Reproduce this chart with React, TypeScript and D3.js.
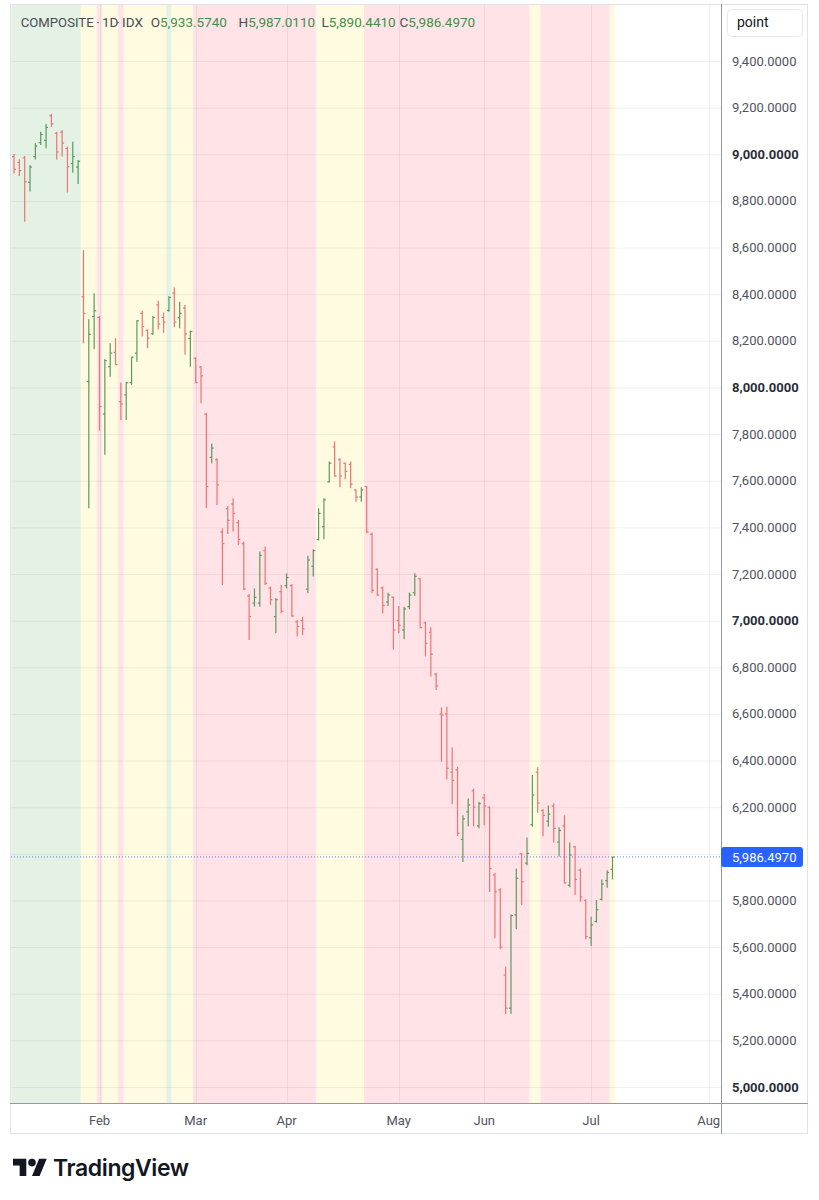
import React from "react";
import * as d3 from "d3";

// ---- DATA ----
const opens = [
  8990, 8965, 8985, 8880, 8990, 9050, 9060, 9165, 9090, 9095, 9025, 8960, 8945,
  8389, 8025, 8304, 8300, 7886, 8089, 8150, 7939, 7968, 8021, 8147, 8318, 8245,
  8230, 8354, 8300, 8330, 8405, 8300, 8340, 8210, 8125, 8088, 7885, 7700, 7690,
  7380, 7480, 7500, 7420, 7330, 7105, 7075, 7075, 7300, 7140, 7017, 7124, 7150,
  7150, 6995, 7000, 7135, 7233, 7348, 7403, 7595, 7745, 7690, 7675, 7670, 7560,
  7530, 7575, 7370, 7220, 7140, 7080, 7100, 7000, 6960, 7060, 7120, 7180, 6990,
  6950, 6770, 6600, 6600, 6350, 6360, 6062, 6180, 6270, 6120, 6240, 6200, 5910,
  5845, 5480, 5338, 5738, 6000, 5960, 6125, 6350, 6185, 6140, 6205, 6050, 6120,
  5865, 6030, 5930, 5800, 5640, 5710, 5805, 5885, 5933.574,
];
const highs = [
  9001, 8979, 8993, 8954, 9047, 9097, 9130, 9173, 9097, 9104, 9033, 9054, 8975,
  8589, 8292, 8404, 8306, 8121, 8190, 8211, 8021, 8025, 8132, 8288, 8329, 8249,
  8306, 8372, 8321, 8392, 8429, 8368, 8354, 8243, 8130, 8092, 7892, 7760, 7696,
  7396, 7492, 7525, 7432, 7339, 7114, 7138, 7296, 7318, 7146, 7097, 7153, 7203,
  7157, 7003, 7017, 7278, 7306, 7482, 7525, 7682, 7768, 7696, 7678, 7682, 7563,
  7572, 7577, 7378, 7225, 7146, 7120, 7103, 7063, 7060, 7120, 7203, 7182, 6996,
  6972, 6777, 6628, 6631, 6456, 6373, 6165, 6237, 6280, 6223, 6258, 6203, 5919,
  5852, 5517, 5741, 5937, 6005, 6070, 6338, 6371, 6192, 6207, 6216, 6114, 6165,
  6049, 6035, 5937, 5805, 5730, 5802, 5890, 5929, 5987.011,
];
const lows = [
  8918, 8907, 8711, 8840, 8978, 9040, 9026, 9118, 8978, 8990, 8836, 8921, 8873,
  8189, 7482, 8164, 7815, 7711, 8046, 8096, 7860, 7860, 8011, 8110, 8218, 8168,
  8225, 8249, 8235, 8325, 8258, 8254, 8140, 8089, 8018, 7932, 7482, 7675, 7496,
  7153, 7372, 7382, 7325, 7131, 6917, 7060, 7060, 7153, 7067, 6946, 7032, 7138,
  7017, 6932, 6938, 7117, 7189, 7344, 7349, 7592, 7618, 7572, 7606, 7568, 7510,
  7510, 7375, 7117, 7106, 7032, 7063, 6875, 6946, 6920, 7049, 7106, 6967, 6846,
  6760, 6702, 6395, 6319, 6213, 6076, 5965, 6118, 6118, 6109, 6122, 5836, 5638,
  5591, 5313, 5313, 5676, 5780, 5951, 6116, 6176, 6075, 6116, 6049, 5988, 5872,
  5857, 5825, 5794, 5634, 5605, 5705, 5800, 5855, 5890.441,
];
const closes = [
  8935, 8930, 8882, 8945, 9035, 9085, 9115, 9130, 9010, 9048, 8947, 8990, 8970,
  8318, 8228, 8329, 7918, 8115, 8147, 8098, 7929, 8020, 8130, 8286, 8261, 8211,
  8300, 8272, 8280, 8386, 8280, 8318, 8230, 8240, 8021, 8050, 7575, 7740, 7582,
  7330, 7430, 7460, 7348, 7135, 7017, 7100, 7280, 7160, 7090, 7090, 7040, 7185,
  7020, 6975, 6965, 7260, 7300, 7460, 7518, 7675, 7620, 7620, 7640, 7585, 7530,
  7560, 7380, 7130, 7110, 7065, 7110, 6960, 6980, 7050, 7110, 7190, 6970, 6903,
  6856, 6720, 6595, 6367, 6315, 6088, 6150, 6210, 6200, 6215, 6205, 5937, 5837,
  5600, 5338, 5735, 5895, 5880, 6002, 6252, 6218, 6165, 6170, 6109, 6100, 5875,
  5995, 5890, 5815, 5645, 5695, 5760, 5870, 5920, 5986.497,
];

// background regime runs (start bar index, state)
const regimeStart = [0, 13, 16, 17, 20, 21, 29, 30, 34, 57, 66, 97, 99, 112];
const regimeState = ["G", "Y", "P", "Y", "P", "Y", "G", "Y", "P", "Y", "P", "Y", "P", "Y"];

const yTicks = [9400, 9200, 9000, 8800, 8600, 8400, 8200, 8000, 7800, 7600, 7400, 7200, 7000, 6800, 6600, 6400, 6200, 5800, 5600, 5400, 5200, 5000];
const gridTicks = [9400, 9200, 9000, 8800, 8600, 8400, 8200, 8000, 7800, 7600, 7400, 7200, 7000, 6800, 6600, 6400, 6200, 6000, 5800, 5600, 5400, 5200, 5000];

const monthLabels = ["Feb", "Mar", "Apr", "May", "Jun", "Jul", "Aug"];
const monthIndex = [16, 34, 51, 72, 88, 108, 130];

const lastPrice = closes[closes.length - 1];

// ---- LAYOUT ----
const W = 819;
const H = 1200;
const plotL = 11;
const plotR = 721;
const plotT = 5;
const plotB = 1103;

const bandColor: Record<string, string> = {
  G: "#e3f2e4",
  Y: "#fffbe0",
  P: "#ffe3e6",
};
const upColor = "#5a9a5e";
const downColor = "#ee7373";

const fmt = (v: number) => d3.format(",.4f")(v);

export default function App() {
  const xScale = d3.scaleLinear().domain([0, 112]).range([14, 612.5]);
  const yScale = d3.scaleLinear().domain([5000, 9400]).range([1087, 61]);
  const step = xScale(1) - xScale(0);
  const n = closes.length;
  const font = "Roboto, 'Noto Sans', sans-serif";

  const bands = regimeStart.map((s, k) => {
    const e = k < regimeStart.length - 1 ? regimeStart[k + 1] - 1 : n - 1;
    const x0 = Math.max(plotL, xScale(s) - step / 2);
    const x1 = xScale(e) + step / 2;
    return { x0, x1, c: bandColor[regimeState[k]] };
  });

  const hdrDark = "#4a4d55";
  const hdrGreen = "#43904a";
  const ohlc = [
    { k: "O", v: opens[n - 1], x: 150.7 },
    { k: "H", v: highs[n - 1], x: 238.5 },
    { k: "L", v: lows[n - 1], x: 321.5 },
    { k: "C", v: lastPrice, x: 399.5 },
  ];

  return (
    <svg
      width={W}
      height={H}
      style={{ position: "absolute", left: 0, top: 0, background: "#fff" }}
      fontFamily={font}
    >
      <defs>
        <clipPath id="plotClip">
          <rect x={plotL} y={plotT} width={plotR - plotL} height={plotB - plotT} />
        </clipPath>
        <clipPath id="timeClip">
          <rect x={plotL} y={plotB} width={plotR - plotL} height={32} />
        </clipPath>
      </defs>

      {/* background regimes */}
      <g clipPath="url(#plotClip)">
        {bands.map((b, i) => (
          <rect key={i} x={b.x0} y={plotT} width={b.x1 - b.x0} height={plotB - plotT} fill={b.c} />
        ))}
        {/* grid */}
        {gridTicks.map((t) => (
          <line key={t} x1={plotL} x2={plotR} y1={yScale(t) + 0.5} y2={yScale(t) + 0.5} stroke="rgba(42,46,57,0.07)" strokeWidth={1} />
        ))}
        {monthIndex.map((m) => (
          <line key={m} x1={Math.round(xScale(m)) + 0.5} x2={Math.round(xScale(m)) + 0.5} y1={plotT} y2={plotB} stroke="rgba(42,46,57,0.07)" strokeWidth={1} />
        ))}
        {/* last price dotted line */}
        <line x1={plotL} x2={plotR} y1={yScale(lastPrice)} y2={yScale(lastPrice)} stroke="#2962ff" strokeWidth={1} strokeDasharray="1 2" opacity={0.8} />
        {/* OHLC bars */}
        {closes.map((c, i) => {
          const o = opens[i];
          const x = xScale(i);
          const col = c >= o ? upColor : downColor;
          return (
            <g key={i} stroke={col} strokeWidth={1.2}>
              <line x1={x} x2={x} y1={yScale(highs[i])} y2={yScale(lows[i])} />
              <line x1={x - 2} x2={x} y1={yScale(o)} y2={yScale(o)} />
              <line x1={x} x2={x + 2} y1={yScale(c)} y2={yScale(c)} />
            </g>
          );
        })}
      </g>

      {/* header legend */}
      <g fontSize={13.5} fill={hdrDark}>
        <text x={20.7} y={27} textLength={73} lengthAdjust="spacingAndGlyphs">COMPOSITE</text>
        <text x={98} y={27} textAnchor="middle">·</text>
        <text x={102} y={27}>1D</text>
        <text x={118} y={27} textAnchor="middle">·</text>
        <text x={122} y={27}>IDX</text>
        {ohlc.map((d) => (
          <text key={d.k} x={d.x} y={27}>
            <tspan fill={hdrDark}>{d.k}</tspan>
            <tspan fill={hdrGreen}>{fmt(d.v)}</tspan>
          </text>
        ))}
      </g>

      {/* outer frame */}
      <rect x={10.5} y={4.5} width={797} height={1129} fill="none" stroke="#e0e3eb" strokeWidth={1} />
      {/* axis lines */}
      <line x1={10} x2={808} y1={plotB + 0.5} y2={plotB + 0.5} stroke="#9598a1" strokeWidth={1} />
      <line x1={plotR + 0.5} x2={plotR + 0.5} y1={4} y2={1134} stroke="#9598a1" strokeWidth={1} />

      {/* unit box */}
      <rect x={727.5} y={9.5} width={75} height={27} rx={4} fill="#fff" stroke="#e6e8ee" />
      <text x={737} y={27} fontSize={14} fill="#131722">point</text>

      {/* y labels */}
      {yTicks.map((t) => (
        <text
          key={t}
          x={732}
          y={yScale(t)}
          dy="0.35em"
          fontSize={13}
          fontWeight={t % 1000 === 0 ? 700 : 400}
          fill={t % 1000 === 0 ? "#2a2e39" : "#50535e"}
        >
          {fmt(t)}
        </text>
      ))}

      {/* last price label */}
      <rect x={721} y={yScale(lastPrice) - 10} width={82} height={20} rx={3} fill="#2962ff" />
      <text x={732} y={yScale(lastPrice)} dy="0.35em" fontSize={13} fill="#fff">
        {fmt(lastPrice)}
      </text>

      {/* time labels */}
      <g clipPath="url(#timeClip)">
        {monthLabels.map((m, k) => (
          <text key={m} x={xScale(monthIndex[k])} y={1120} dy="0.35em" textAnchor="middle" fontSize={13} fill="#50535e">
            {m}
          </text>
        ))}
      </g>

      {/* TradingView logo */}
      <g transform="translate(13,1155) scale(0.95)" fill="#131722">
        <path d="M14 22H7V11H0V4h14v18zM28 22h-8l7.5-18h8L28 22z" />
        <circle cx={20} cy={8} r={4} />
      </g>
      <text x={53} y={1176} fontSize={23} fontWeight={600} fill="#131722" fontFamily="Inter, Roboto, sans-serif" letterSpacing={-0.4}>
        TradingView
      </text>
    </svg>
  );
}
